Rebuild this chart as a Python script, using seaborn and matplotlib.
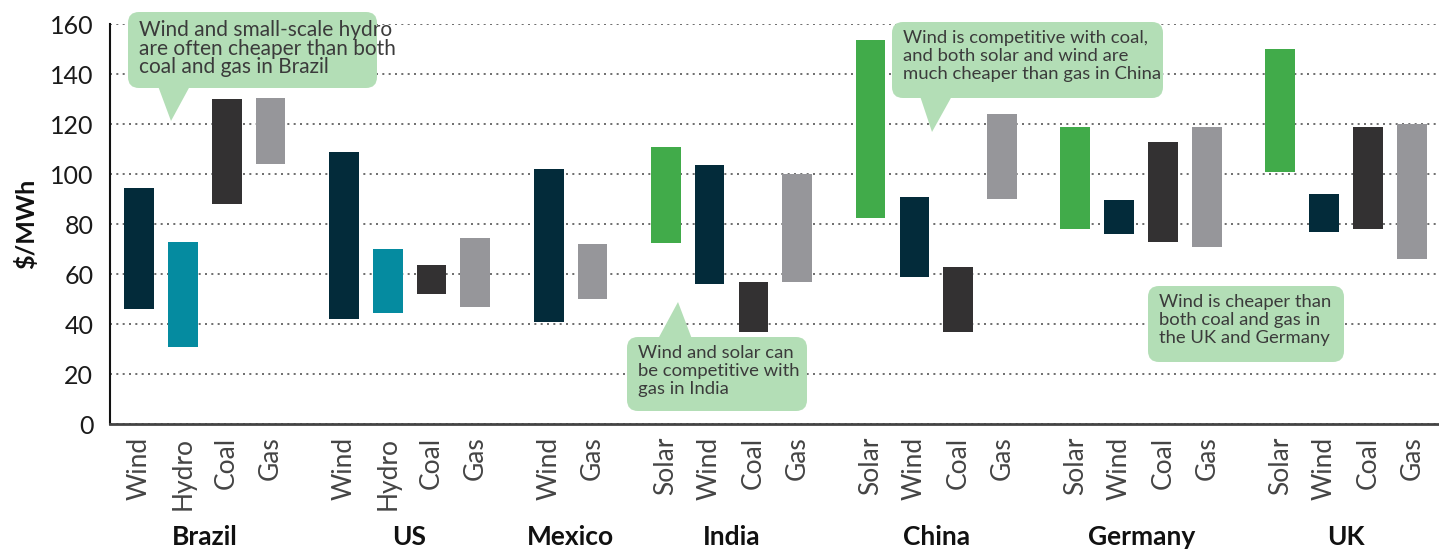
import pandas as pd
import seaborn as sns
import matplotlib.pyplot as plt
from matplotlib.patches import FancyBboxPatch, Polygon
from matplotlib.transforms import Affine2D, blended_transform_factory

# data ($/MWh ranges)
countries = ["Brazil", "US", "Mexico", "India", "China", "Germany", "UK"]
techs = [
    ["Wind", "Hydro", "Coal", "Gas"],
    ["Wind", "Hydro", "Coal", "Gas"],
    ["Wind", "Gas"],
    ["Solar", "Wind", "Coal", "Gas"],
    ["Solar", "Wind", "Coal", "Gas"],
    ["Solar", "Wind", "Coal", "Gas"],
    ["Solar", "Wind", "Coal", "Gas"],
]
low = [
    [46, 31, 88, 104],
    [42, 44.5, 52, 47],
    [41, 50],
    [72.5, 56, 37, 57],
    [82.5, 59, 37, 90],
    [78, 76, 73, 71],
    [101, 77, 78, 66],
]
high = [
    [94.5, 73, 130, 130.5],
    [109, 70, 63.5, 74.5],
    [102, 72],
    [111, 103.5, 57, 100],
    [153.5, 91, 63, 124],
    [119, 89.5, 113, 119],
    [150, 92, 119, 120],
]
palette = {
    "Wind": "#032b3a",
    "Hydro": "#058ba0",
    "Coal": "#333132",
    "Gas": "#96969a",
    "Solar": "#41ab4a",
}

# build a long table with bar positions (gap between country groups)
GAP = 1.67
rows = []
centers = []
start = 0.0
for c, t, lo, hi in zip(countries, techs, low, high):
    for i, (tt, l, h) in enumerate(zip(t, lo, hi)):
        rows.append(dict(country=c, tech=tt, pos=round(start + i, 3), low=l, high=h))
    centers.append(start + (len(t) - 1) / 2)
    start += len(t) - 1 + GAP
df = pd.DataFrame(rows)
df["span"] = df["high"] - df["low"]

sns.set_theme(style="white")
plt.rcParams["font.family"] = ["Lato", "DejaVu Sans"]

W, H = 1439, 551
fig = plt.figure(figsize=(W / 100, H / 100), dpi=100)
ax = fig.add_axes([110 / W, 127 / H, (W - 110) / W, 400 / H])

sns.barplot(data=df, x="pos", y="span", bottom=df["low"].values,
            native_scale=True, width=0.68, saturation=1, errorbar=None,
            color=palette["Wind"], linewidth=0, ax=ax)
for bar, tech in zip(ax.patches, df["tech"]):
    bar.set_facecolor(palette[tech])

ax.set_xlim(-0.66, df["pos"].max() + 0.62)
ax.set_ylim(0, 160)
ax.set_axisbelow(True)
ax.yaxis.grid(True, linestyle=(0, (1.2, 2.6)), color="#555555", linewidth=1.2)
ax.xaxis.grid(False)

ax.set_yticks(range(0, 161, 20))
ax.tick_params(axis="y", length=0, pad=12, labelsize=18, labelcolor="#1a1a1a")
ax.set_xticks(df["pos"])
ax.set_xticklabels(df["tech"], rotation=90, fontsize=19, color="#444444")
ax.tick_params(axis="x", length=0, pad=9)
ax.set_xlabel("")
ax.set_ylabel("$/MWh", fontsize=18, fontweight="bold", color="#111111", labelpad=8)

for side in ["top", "right"]:
    ax.spines[side].set_visible(False)
ax.spines["left"].set_color("#111111")
ax.spines["left"].set_linewidth(1.5)
ax.spines["bottom"].set_color("#444444")
ax.spines["bottom"].set_linewidth(2)

trans = blended_transform_factory(ax.transData, ax.transAxes)
for c, x in zip(countries, centers):
    ax.text(x, -0.2825, c, transform=trans, ha="center", va="center",
            fontsize=19, fontweight="bold", color="#111111")

# callouts, placed in image pixel coordinates (origin top-left)
px = Affine2D().scale(1, -1).translate(0, H)
BOX = "#b3deb6"


def callout(x0, y0, x1, y1, text, tip=None, size=13.3, spacing=1.15):
    fig.add_artist(FancyBboxPatch((x0, y0), x1 - x0, y1 - y0,
                                  boxstyle="round,pad=0,rounding_size=11",
                                  transform=px, facecolor=BOX, edgecolor="none"))
    if tip is not None:
        fig.add_artist(Polygon(tip, closed=True, transform=px,
                               facecolor=BOX, edgecolor="none"))
    fig.text(x0 + 11, y0 + 8, text, transform=px, ha="left", va="top",
             fontsize=size, color="#3b3b3b", linespacing=spacing)


callout(128, 12, 377, 88,
        "Wind and small-scale hydro\nare often cheaper than both\ncoal and gas in Brazil",
        [(158, 86), (190, 86), (171, 121)], size=15, spacing=0.92)
callout(627, 337, 807, 411,
        "Wind and solar can\nbe competitive with\ngas in India",
        [(658, 339), (692, 339), (678, 302)])
callout(892, 22, 1163, 98,
        "Wind is competitive with coal,\nand both solar and wind are\nmuch cheaper than gas in China",
        [(920, 96), (952, 96), (932, 132)])
callout(1148, 286, 1344, 362,
        "Wind is cheaper than\nboth coal and gas in\nthe UK and Germany")

fig.savefig("out.png", dpi=100)
